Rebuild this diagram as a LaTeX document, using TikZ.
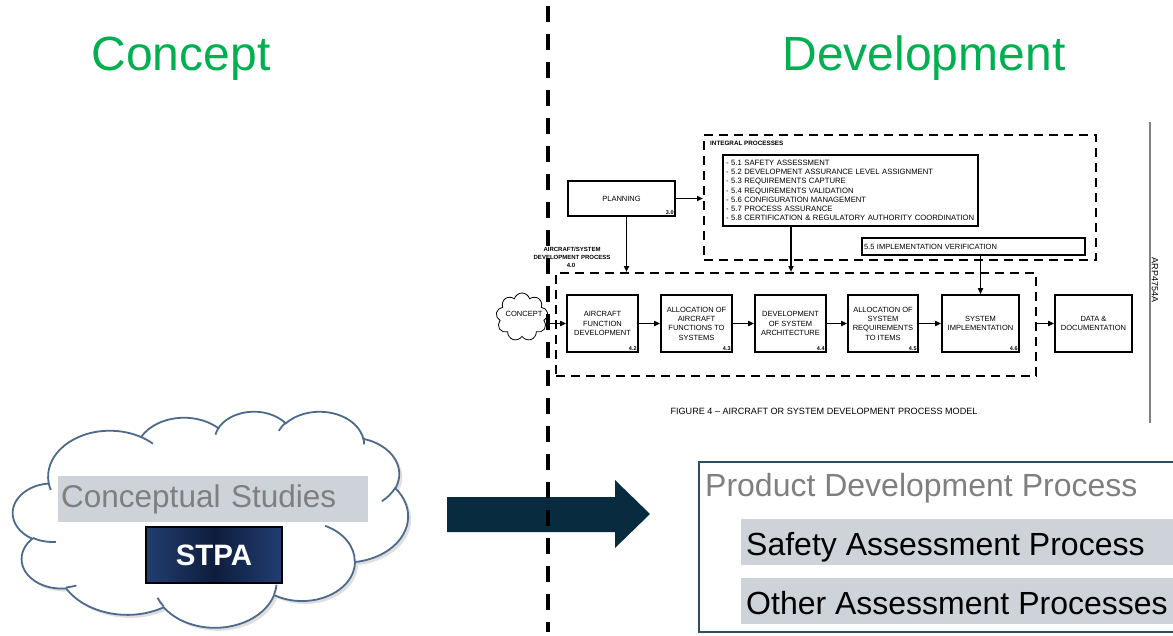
\documentclass[tikz,border=0pt]{standalone}
\usepackage{fontspec}
\setmainfont{Liberation Sans}
\usetikzlibrary{arrows.meta,shapes.symbols,shadows,calc}
\definecolor{cgreen}{HTML}{00B050}
\definecolor{barfill}{HTML}{CDD3D9}
\definecolor{txtgray}{HTML}{7F7F7F}
\definecolor{cloudline}{HTML}{4C6A8C}
\definecolor{arrowfill}{HTML}{082B40}
\definecolor{pborder}{HTML}{2F4B5F}
\definecolor{navyA}{HTML}{213E70}
\definecolor{navyB}{HTML}{0E1D3E}
% DrawingML arcTo: visual start angle, sweep, radii
\newcommand\cldarc[4]{arc[start angle={atan2((#3/#4)*sin(#1),cos(#1))},delta angle={mod(atan2((#3/#4)*sin((#1)+(#2)),cos((#1)+(#2)))-atan2((#3/#4)*sin(#1),cos(#1))+720,360)},x radius=#3,y radius=#4]}
\begin{document}
\begin{tikzpicture}[x=1pt,y=-1pt,
  heading/.style={text=cgreen,font=\fontsize{48}{50}\selectfont,anchor=base,inner sep=0},
  pbox/.style={draw,line width=1.6pt,minimum height=57pt,align=center,inner sep=1pt,font=\fontsize{7.5}{9.3}\selectfont},
  numlbl/.style={font=\bfseries\fontsize{5.5}{6}\selectfont,anchor=south east,inner sep=2pt},
  dbox/.style={draw,line width=2pt,dash pattern=on 9pt off 6pt},
  conn/.style={line width=1.6pt,-{Triangle[length=6pt,width=5pt]}},
  bigtext/.style={font=\fontsize{32}{34}\selectfont,anchor=base west,inner sep=0},
  cloudstroke/.style={draw=cloudline,line width=1.8pt},
]
\useasboundingbox (0,0) rectangle (1173,635);

% headings
\node[heading] (hconcept) at (181,70) {Concept};
\node[heading] (hdev) at (924,70) {Development};

% ---------- ARP4754A figure ----------
\node[dbox,minimum width=392pt,minimum height=125pt] (integ) at (900,197.5) {};
\node[font=\bfseries\fontsize{6.3}{7}\selectfont,anchor=west,inner sep=0] (integlbl) at (710,143) {INTEGRAL PROCESSES};
\node[draw,line width=1.6pt,minimum width=255pt,minimum height=71pt,text width=249pt,align=left,inner sep=3pt,font=\fontsize{7.7}{9.2}\selectfont] (list) at (850.5,190.5)
 {- 5.1 SAFETY ASSESSMENT\\
  - 5.2 DEVELOPMENT ASSURANCE LEVEL ASSIGNMENT\\
  - 5.3 REQUIREMENTS CAPTURE\\
  - 5.4 REQUIREMENTS VALIDATION\\
  - 5.6 CONFIGURATION MANAGEMENT\\
  - 5.7 PROCESS ASSURANCE\\
  - 5.8 CERTIFICATION \& REGULATORY AUTHORITY COORDINATION};
\node[draw,line width=1.6pt,minimum width=223pt,minimum height=17pt,text width=219pt,align=left,inner sep=2pt,font=\fontsize{7.5}{8}\selectfont] (v55) at (973.5,246.5) {5.5 IMPLEMENTATION VERIFICATION};

\node[pbox,minimum width=107pt,minimum height=35pt] (plan) at (621.5,198.5) {PLANNING};
\node[numlbl] (plannum) at (plan.south east) {3.0};

\node[font=\bfseries\fontsize{6}{8}\selectfont,align=center,inner sep=0] (devlbl) at (572,253) {AIRCRAFT/SYSTEM\\DEVELOPMENT PROCESS};
\node[font=\bfseries\fontsize{6}{7}\selectfont,inner sep=0] (devnum) at (571,265) {4.0};

\node[dbox,minimum width=480pt,minimum height=103pt] (devp) at (796,324.5) {};

\node[pbox,minimum width=71pt] (b42) at (602.5,323.5) {AIRCRAFT\\FUNCTION\\DEVELOPMENT};
\node[numlbl] (n42) at (b42.south east) {4.2};
\node[pbox,minimum width=71pt] (b43) at (696.5,323.5) {ALLOCATION OF\\AIRCRAFT\\FUNCTIONS TO\\SYSTEMS};
\node[numlbl] (n43) at (b43.south east) {4.3};
\node[pbox,minimum width=71pt] (b44) at (790.5,323.5) {DEVELOPMENT\\OF SYSTEM\\ARCHITECTURE};
\node[numlbl] (n44) at (b44.south east) {4.4};
\node[pbox,minimum width=70pt] (b45) at (883,323.5) {ALLOCATION OF\\SYSTEM\\REQUIREMENTS\\TO ITEMS};
\node[numlbl] (n45) at (b45.south east) {4.5};
\node[pbox,minimum width=77pt] (b46) at (980.5,323.5) {SYSTEM\\IMPLEMENTATION};
\node[numlbl] (n46) at (b46.south east) {4.6};
\node[pbox,minimum width=77pt] (bdata) at (1093.5,323.5) {DATA \&\\DOCUMENTATION};

\node[cloud,cloud puffs=9,draw,line width=0.8pt,minimum width=52pt,minimum height=48pt,aspect=1,inner sep=0] (concept) at (522,317) {};
\node[font=\fontsize{7.5}{8}\selectfont,inner sep=0] (concepttxt) at (524,314) {CONCEPT};

% connectors
\draw[conn] (plan.east) -- (plan.east -| integ.west);
\draw[conn] ([xshift=5pt]plan.south) -- ([xshift=5pt]plan.south |- devp.north);
\draw[conn] ([xshift=-59.5pt]list.south) -- ([xshift=-59.5pt]list.south |- devp.north);
\draw[conn] (b46.north |- v55.south) -- (b46.north);
\draw[conn] (b42.west -| concept.east) -- (b42.west);
\draw[conn] (b42) -- (b43);
\draw[conn] (b43) -- (b44);
\draw[conn] (b44) -- (b45);
\draw[conn] (b45) -- (b46);
\draw[conn] (bdata.west -| devp.east) -- (bdata.west);

\node[font=\fontsize{9.1}{10}\selectfont,inner sep=0] (caption) at (824,411) {FIGURE 4 -- AIRCRAFT OR SYSTEM DEVELOPMENT PROCESS MODEL};

\coordinate (arpTop) at (1150,122);
\coordinate (arpBot) at (1150,423);
\draw[gray,line width=1.2pt] (arpTop) -- (arpBot);
\node[rotate=-90,font=\fontsize{9}{10}\selectfont,inner sep=0] (arp) at (1155,280) {ARP4754A};

% ---------- Concept side: office-style cloud ----------
\begin{scope}[shift={(13,411)},x=0.091435pt,y=-0.0500pt]
\filldraw[cloudstroke,fill=white,drop shadow={shadow xshift=3pt,shadow yshift=-3pt,fill=black!25}]
 (390,1437)
 \cldarc{-190.4875}{123.7805}{675.3}{919.0}
 \cldarc{-144.1024}{89.9452}{533.3}{726.7}
 \cldarc{-145.8079}{99.7230}{436.5}{594.5}
 \cldarc{-130.9861}{117.2417}{485.7}{659.5}
 \cldarc{-78.7089}{109.0269}{533.3}{727.3}
 \cldarc{-46.2673}{130.2690}{677.5}{922.0}
 \cldarc{0.6250}{114.0333}{578.5}{786.7}
 \cldarc{22.4516}{115.1726}{675.2}{921.5}
 \cldarc{66.2426}{75.7110}{772.0}{1054.3}
 \cldarc{-274.9421}{146.7356}{436.0}{591.8}
 \cldarc{-246.8285}{152.5189}{434.5}{594.5}
 -- cycle;
\draw[cloudstroke]
 (469.3,2617.7) \cldarc{86.7420}{26.4295}{434.5}{594.5}
 (692.8,3489.9) \cldarc{73.6105}{11.4475}{436.0}{591.8}
 (1647.8,3909.0) \cldarc{137.6242}{14.0811}{675.2}{921.5}
 (2882.7,3475.1) \cldarc{6.4533}{15.9984}{675.2}{921.5}
 (3412.9,2295.4) \cldarc{-70.2924}{70.9174}{578.5}{786.7}
 (4179.8,1535.4) \cldarc{30.3180}{27.7515}{533.3}{727.3}
 (3832.4,542.6) \cldarc{-13.7443}{14.8589}{485.7}{659.5}
 (2907.8,395.2) \cldarc{-149.1815}{18.1954}{485.7}{659.5}
 (2214.1,472.0) \cldarc{-163.4943}{17.6864}{436.5}{594.5}
 (1400.0,519.2) \cldarc{-66.7070}{12.3194}{675.3}{919.0}
 (412.7,1578.9) \cldarc{157.6544}{11.8582}{675.3}{919.0};
\end{scope}
\coordinate (cloudc) at (210,521);

\node[fill=barfill,anchor=north west,minimum height=46pt,text width=304pt,inner xsep=3pt,align=left,
  text=txtgray,font=\fontsize{31.5}{33}\selectfont] (cstud) at (58,476) {Conceptual Studies};
\node[draw=black,line width=1.5pt,left color=navyA,right color=navyA,middle color=navyB,
  minimum width=136pt,minimum height=56pt,text=white,font=\bfseries\fontsize{29.5}{31}\selectfont] (stpa) at (214,555) {STPA};

% big arrow
\fill[arrowfill] (447,497) -- (615,497) -- (615,480) -- (650,514) -- (615,548) -- (615,532) -- (447,532) -- cycle;

% separator
\coordinate (sepTop) at (548,6);
\coordinate (sepBot) at (548,632);
\draw[line width=3.5pt,dash pattern=on 16pt off 12pt] (sepTop) -- (sepBot);

% ---------- Development side ----------
\draw[draw=pborder,line width=2pt] (699,462) rectangle (1190,632);
\node[bigtext,text=txtgray] (pdp) at (705,496) {Product Development Process};
\node[fill=barfill,anchor=north west,minimum width=450pt,minimum height=46pt,inner sep=0] (sbar) at (741,519) {};
\node[bigtext] (sap) at (746,555) {Safety Assessment Process};
\node[fill=barfill,anchor=north west,minimum width=450pt,minimum height=46pt,inner sep=0] (obar) at (741,578) {};
\node[bigtext] (oap) at (746,614) {Other Assessment Processes};
\end{tikzpicture}
\end{document}
